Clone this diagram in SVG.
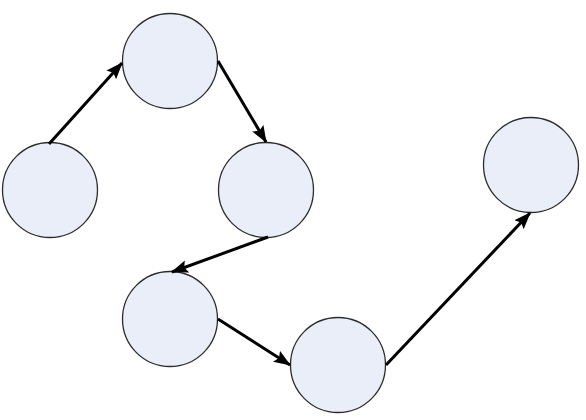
<svg xmlns="http://www.w3.org/2000/svg" width="586" height="420" viewBox="0 0 586 420">
<style>
.n{fill:#e9eef8;stroke:#2b2b2b;stroke-width:1.3}
.e{stroke:#000;stroke-width:3;fill:none;marker-end:url(#a)}
</style>
<defs>
<marker id="a" markerUnits="userSpaceOnUse" markerWidth="18" markerHeight="14" refX="16" refY="6.5" orient="auto" viewBox="0 0 18 13">
<path d="M0,0 L17,6.5 L0,13 L3,6.5 Z" fill="#000"/>
</marker>
</defs>
<rect width="586" height="420" fill="#fff"/>
<g id="n1"><circle class="n" cx="50" cy="190" r="47.5"/></g>
<g id="n2"><circle class="n" cx="170" cy="61" r="47.5"/></g>
<g id="n3"><circle class="n" cx="266" cy="190" r="47.5"/></g>
<g id="n4"><circle class="n" cx="170" cy="319" r="47.5"/></g>
<g id="n5"><circle class="n" cx="338" cy="365" r="47.5"/></g>
<g id="n6"><circle class="n" cx="531" cy="165" r="47.5"/></g>
<g id="connectors">
<line class="e" x1="49" y1="144" x2="122" y2="63"/>
<line class="e" x1="218" y1="61" x2="266" y2="142"/>
<line class="e" x1="268" y1="237" x2="172" y2="272"/>
<line class="e" x1="218" y1="319" x2="290" y2="365"/>
<line class="e" x1="386" y1="365" x2="530" y2="213"/>
</g>
</svg>
